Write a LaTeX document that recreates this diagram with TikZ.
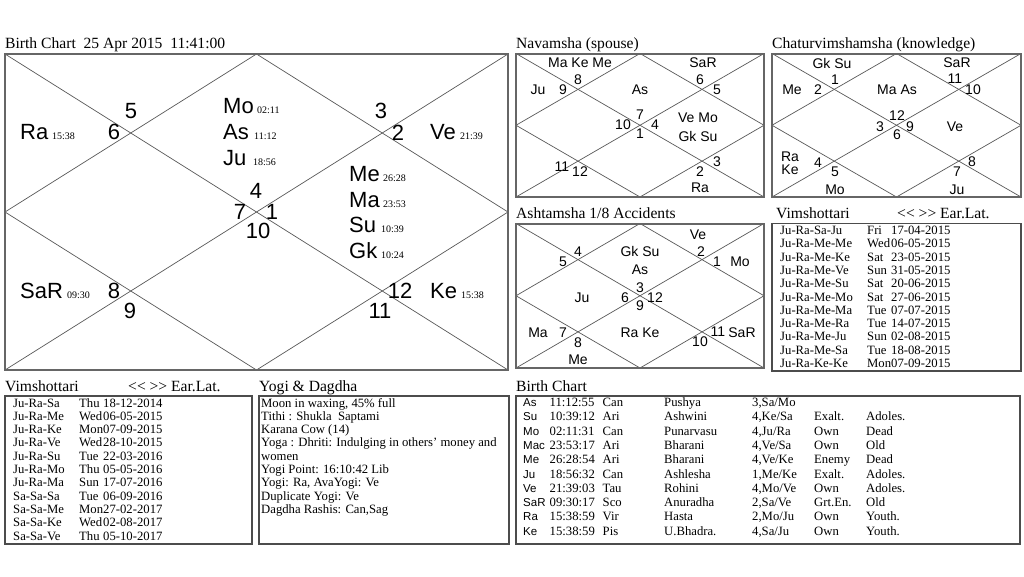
\documentclass[tikz,border=0pt]{standalone}
\usepackage{fontspec}
\setmainfont{Liberation Serif}
\setsansfont{Liberation Sans}
\usepackage{array}
\tikzstyle{chart-frame}=[draw=black!60,line width=2pt]
\tikzstyle{chart-line}=[draw=black!65,line width=0.7pt]
\tikzstyle{table-frame}=[draw=black!70,line width=1.1pt]
\tikzstyle{title-text}=[anchor=base west,inner sep=0pt,font=\fontsize{15.6}{18}\selectfont]
\tikzstyle{big-label}=[inner sep=0pt,font=\sffamily\fontsize{22}{24}\selectfont]
\tikzstyle{big-planet}=[anchor=base west,inner sep=0pt,font=\sffamily\fontsize{22}{24}\selectfont]
\tikzstyle{degree-text}=[anchor=base west,inner sep=0pt,font=\fontsize{10}{12}\selectfont]
\tikzstyle{small-label}=[inner sep=0pt,font=\sffamily\fontsize{14}{16}\selectfont]
\tikzstyle{table-text}=[anchor=base west,inner sep=0pt,font=\fontsize{12.7}{13.3}\selectfont]
\tikzstyle{planet-table}=[anchor=base west,inner sep=0pt,font=\fontsize{12.7}{14.3}\selectfont]
\newcommand{\wday}[1]{\makebox[1.89em][l]{#1}}
\begin{document}
\begin{tikzpicture}[x=1pt,y=-1pt]
	\fill[white] (0,0) rectangle (1024,576);
	\useasboundingbox (0,0) rectangle (1024,576);

	% birth chart
	\begin{scope}
	\coordinate (m-nw) at (5,54);
	\coordinate (m-ne) at (508,54);
	\coordinate (m-sw) at (5,370);
	\coordinate (m-se) at (508,370);
	\coordinate (m-n) at (256.5,54);
	\coordinate (m-s) at (256.5,370);
	\coordinate (m-w) at (5,212);
	\coordinate (m-e) at (508,212);
	\draw[chart-line] (m-nw) -- (m-se);
	\draw[chart-line] (m-ne) -- (m-sw);
	\draw[chart-line] (m-n) -- (m-e) -- (m-s) -- (m-w) -- cycle;
	\draw[chart-frame] (m-nw) rectangle (m-se);
	\node (m-title)[title-text] at (5,48) {Birth Chart\ \ 25 Apr 2015\ \ 11:41:00};

	\node (m5)[big-label] at (131,111) {5};
	\node (m6)[big-label] at (114,132) {6};
	\node (m3)[big-label] at (381,111) {3};
	\node (m2)[big-label] at (398,133) {2};
	\node (m4)[big-label] at (256,191) {4};
	\node (m7)[big-label] at (240,212) {7};
	\node (m1)[big-label] at (272,212) {1};
	\node (m10)[big-label] at (258,231) {10};
	\node (m8)[big-label] at (114,291) {8};
	\node (m9)[big-label] at (130,311) {9};
	\node (m12)[big-label] at (400,291) {12};
	\node (m11)[big-label] at (380,311) {11};

	\node (mRa)[big-planet] at (20,139) {Ra};
	\node (tRa)[degree-text] at (52,139) {15:38};
	\node (mMo)[big-planet] at (223,113.5) {Mo};
	\node (tMo)[degree-text] at (257,113.5) {02:11};
	\node (mAs)[big-planet] at (223,139.5) {As};
	\node (tAs)[degree-text] at (254,139.5) {11:12};
	\node (mJu)[big-planet] at (223,165.5) {Ju};
	\node (tJu)[degree-text] at (253,165.5) {18:56};
	\node (mVe)[big-planet] at (430,139.5) {Ve};
	\node (tVe)[degree-text] at (460,139.5) {21:39};
	\node (mMe)[big-planet] at (349,181) {Me};
	\node (tMe)[degree-text] at (383,181) {26:28};
	\node (mMa)[big-planet] at (349,207) {Ma};
	\node (tMa)[degree-text] at (383,207) {23:53};
	\node (mSu)[big-planet] at (349,232.5) {Su};
	\node (tSu)[degree-text] at (381,232.5) {10:39};
	\node (mGk)[big-planet] at (349,258) {Gk};
	\node (tGk)[degree-text] at (381,258) {10:24};
	\node (mKe)[big-planet] at (430,298) {Ke};
	\node (tKe)[degree-text] at (461,298) {15:38};
	\node (mSaR)[big-planet] at (20,298.5) {SaR};
	\node (tSaR)[degree-text] at (67,298.5) {09:30};
	\end{scope}

	% navamsha
	\begin{scope}
	\coordinate (n-nw) at (516,53.5);
	\coordinate (n-ne) at (764,53.5);
	\coordinate (n-sw) at (516,197);
	\coordinate (n-se) at (764,197);
	\coordinate (n-n) at (640,53.5);
	\coordinate (n-s) at (640,197);
	\coordinate (n-w) at (516,125.25);
	\coordinate (n-e) at (764,125.25);
	\draw[chart-line] (n-nw) -- (n-se);
	\draw[chart-line] (n-ne) -- (n-sw);
	\draw[chart-line] (n-n) -- (n-e) -- (n-s) -- (n-w) -- cycle;
	\draw[chart-frame] (n-nw) rectangle (n-se);
	\node (n-title)[title-text] at (516,48) {Navamsha (spouse)};

	\node (nMaKeMe)[small-label] at (580,63) {Ma Ke Me};
	\node (n8)[small-label] at (578,80) {8};
	\node (n9)[small-label] at (563,90) {9};
	\node (nJu)[small-label] at (538,90) {Ju};
	\node (nAs)[small-label] at (640,90) {As};
	\node (nSaR)[small-label] at (703,63) {SaR};
	\node (n6)[small-label] at (700,80) {6};
	\node (n5)[small-label] at (717,90) {5};
	\node (n7)[small-label] at (640,115) {7};
	\node (n10)[small-label] at (623,125) {10};
	\node (n4)[small-label] at (655,125) {4};
	\node (n1)[small-label] at (640,133.5) {1};
	\node (nVeMo)[small-label] at (698,118) {Ve Mo};
	\node (nGkSu)[small-label] at (698,136) {Gk Su};
	\node (n11)[small-label] at (562,166.5) {11};
	\node (n12)[small-label] at (580,171.5) {12};
	\node (n3)[small-label] at (717,161.5) {3};
	\node (n2)[small-label] at (700,171.5) {2};
	\node (nRa)[small-label] at (700,188) {Ra};
	\end{scope}

	% chaturvimshamsha
	\begin{scope}
	\coordinate (c-nw) at (772,53.5);
	\coordinate (c-ne) at (1021,53.5);
	\coordinate (c-sw) at (772,197);
	\coordinate (c-se) at (1021,197);
	\coordinate (c-n) at (896.5,53.5);
	\coordinate (c-s) at (896.5,197);
	\coordinate (c-w) at (772,125.25);
	\coordinate (c-e) at (1021,125.25);
	\draw[chart-line] (c-nw) -- (c-se);
	\draw[chart-line] (c-ne) -- (c-sw);
	\draw[chart-line] (c-n) -- (c-e) -- (c-s) -- (c-w) -- cycle;
	\draw[chart-frame] (c-nw) rectangle (c-se);
	\node (c-title)[title-text] at (772,48) {Chaturvimshamsha (knowledge)};

	\node (cGkSu)[small-label] at (832,63) {Gk Su};
	\node (c1)[small-label] at (835,80) {1};
	\node (c2)[small-label] at (818,90) {2};
	\node (cMe)[small-label] at (792,90) {Me};
	\node (cMaAs)[small-label] at (897,90) {Ma As};
	\node (cSaR)[small-label] at (957,63) {SaR};
	\node (c11)[small-label] at (955,78.5) {11};
	\node (c10)[small-label] at (973,90) {10};
	\node (c12)[small-label] at (897,116) {12};
	\node (c3)[small-label] at (880,126.5) {3};
	\node (c9)[small-label] at (910,126.5) {9};
	\node (c6)[small-label] at (897,135) {6};
	\node (cVe)[small-label] at (955,126.5) {Ve};
	\node (cRa)[small-label] at (790,156.5) {Ra};
	\node (cKe)[small-label] at (790,170) {Ke};
	\node (c4)[small-label] at (818,163) {4};
	\node (c5)[small-label] at (835,171.5) {5};
	\node (c8)[small-label] at (972,161.5) {8};
	\node (c7)[small-label] at (957,171.5) {7};
	\node (cMo)[small-label] at (835,190) {Mo};
	\node (cJu)[small-label] at (957,190) {Ju};
	\end{scope}

	% ashtamsha
	\begin{scope}
	\coordinate (a-nw) at (516,223.5);
	\coordinate (a-ne) at (764,223.5);
	\coordinate (a-sw) at (516,368);
	\coordinate (a-se) at (764,368);
	\coordinate (a-n) at (640,223.5);
	\coordinate (a-s) at (640,368);
	\coordinate (a-w) at (516,295.75);
	\coordinate (a-e) at (764,295.75);
	\draw[chart-line] (a-nw) -- (a-se);
	\draw[chart-line] (a-ne) -- (a-sw);
	\draw[chart-line] (a-n) -- (a-e) -- (a-s) -- (a-w) -- cycle;
	\draw[chart-frame] (a-nw) rectangle (a-se);
	\node (a-title)[title-text] at (516,218) {Ashtamsha 1/8 Accidents};

	\node (aVe)[small-label] at (698,235) {Ve};
	\node (a2)[small-label] at (701,251.5) {2};
	\node (a1)[small-label] at (717,261.5) {1};
	\node (aMo)[small-label] at (740,261.5) {Mo};
	\node (a4)[small-label] at (578,251.5) {4};
	\node (a5)[small-label] at (563,261.5) {5};
	\node (aGkSu)[small-label] at (640,251.5) {Gk Su};
	\node (aAs)[small-label] at (640,270) {As};
	\node (a3)[small-label] at (640,288) {3};
	\node (a6)[small-label] at (625,298) {6};
	\node (a12)[small-label] at (655,298) {12};
	\node (a9)[small-label] at (640,306) {9};
	\node (aJu)[small-label] at (582,298) {Ju};
	\node (aMa)[small-label] at (538,333) {Ma};
	\node (a7)[small-label] at (563,333) {7};
	\node (a8)[small-label] at (578,343) {8};
	\node (aMe)[small-label] at (578,360) {Me};
	\node (aRaKe)[small-label] at (640,333) {Ra Ke};
	\node (a11)[small-label] at (718,331.5) {11};
	\node (aSaR)[small-label] at (742,333) {SaR};
	\node (a10)[small-label] at (700,341.5) {10};
	\end{scope}

	% vimshottari, right
	\begin{scope}
	\draw[table-frame] (772,223.5) rectangle (1021,371);
	\node (vr-title)[title-text] at (776,218) {Vimshottari};
	\node (vr-nav)[title-text] at (897,218) {{<}{<} {>}{>} Ear.Lat.};
	\node (vr-list)[table-text] at (780,234.5) {\begin{tabular}[t]{@{}p{87pt}@{}l@{}}
		Ju-Ra-Sa-Ju & \wday{Fri}17-04-2015\\
		Ju-Ra-Me-Me & \wday{Wed}06-05-2015\\
		Ju-Ra-Me-Ke & \wday{Sat}23-05-2015\\
		Ju-Ra-Me-Ve & \wday{Sun}31-05-2015\\
		Ju-Ra-Me-Su & \wday{Sat}20-06-2015\\
		Ju-Ra-Me-Mo & \wday{Sat}27-06-2015\\
		Ju-Ra-Me-Ma & \wday{Tue}07-07-2015\\
		Ju-Ra-Me-Ra & \wday{Tue}14-07-2015\\
		Ju-Ra-Me-Ju & \wday{Sun}02-08-2015\\
		Ju-Ra-Me-Sa & \wday{Tue}18-08-2015\\
		Ju-Ra-Ke-Ke & \wday{Mon}07-09-2015
	\end{tabular}};
	\end{scope}

	% vimshottari, bottom
	\begin{scope}
	\draw[table-frame] (5,396) rectangle (252,544);
	\node (vb-title)[title-text] at (5,391) {Vimshottari};
	\node (vb-nav)[title-text] at (128,391) {{<}{<} {>}{>} Ear.Lat.};
	\node (vb-list)[table-text] at (13,407) {\begin{tabular}[t]{@{}p{66pt}@{}l@{}}
		Ju-Ra-Sa & \wday{Thu}18-12-2014\\
		Ju-Ra-Me & \wday{Wed}06-05-2015\\
		Ju-Ra-Ke & \wday{Mon}07-09-2015\\
		Ju-Ra-Ve & \wday{Wed}28-10-2015\\
		Ju-Ra-Su & \wday{Tue}22-03-2016\\
		Ju-Ra-Mo & \wday{Thu}05-05-2016\\
		Ju-Ra-Ma & \wday{Sun}17-07-2016\\
		Sa-Sa-Sa & \wday{Tue}06-09-2016\\
		Sa-Sa-Me & \wday{Mon}27-02-2017\\
		Sa-Sa-Ke & \wday{Wed}02-08-2017\\
		Sa-Sa-Ve & \wday{Thu}05-10-2017
	\end{tabular}};
	\end{scope}

	% yogi and dagdha
	\begin{scope}
	\draw[table-frame] (259,396) rectangle (509,544);
	\node (yd-title)[title-text] at (259,391) {Yogi \& Dagdha};
	\node (yd-list)[table-text] at (261,407) {\begin{tabular}[t]{@{}l@{}}
		Moon in waxing, 45\% full\\
		Tithi : Shukla\ \ Saptami\\
		Karana Cow (14)\\
		Yoga : Dhriti: Indulging in others' money and\\
		women\\
		Yogi Point: 16:10:42 Lib\\
		Yogi: Ra, AvaYogi: Ve\\
		Duplicate Yogi: Ve\\
		Dagdha Rashis: Can,Sag
	\end{tabular}};
	\end{scope}

	% planet table
	\begin{scope}
	\draw[table-frame] (516,396) rectangle (1020,544);
	\node (bt-title)[title-text] at (516,391) {Birth Chart};
	\node (bt-list)[planet-table] at (523,406.5) {\begin{tabular}[t]{@{}>{\sffamily\fontsize{11.5}{14.3}\selectfont}p{26.5pt}@{}p{53pt}@{}p{61.5pt}@{}p{88pt}@{}p{62pt}@{}p{52pt}@{}l@{}}
		As & 11:12:55 & Can & Pushya & 3,Sa/Mo & & \\
		Su & 10:39:12 & Ari & Ashwini & 4,Ke/Sa & Exalt. & Adoles.\\
		Mo & 02:11:31 & Can & Punarvasu & 4,Ju/Ra & Own & Dead\\
		Mac & 23:53:17 & Ari & Bharani & 4,Ve/Sa & Own & Old\\
		Me & 26:28:54 & Ari & Bharani & 4,Ve/Ke & Enemy & Dead\\
		Ju & 18:56:32 & Can & Ashlesha & 1,Me/Ke & Exalt. & Adoles.\\
		Ve & 21:39:03 & Tau & Rohini & 4,Mo/Ve & Own & Adoles.\\
		SaR & 09:30:17 & Sco & Anuradha & 2,Sa/Ve & Grt.En. & Old\\
		Ra & 15:38:59 & Vir & Hasta & 2,Mo/Ju & Own & Youth.\\
		Ke & 15:38:59 & Pis & U.Bhadra. & 4,Sa/Ju & Own & Youth.
	\end{tabular}};
	\end{scope}
\end{tikzpicture}
\end{document}
